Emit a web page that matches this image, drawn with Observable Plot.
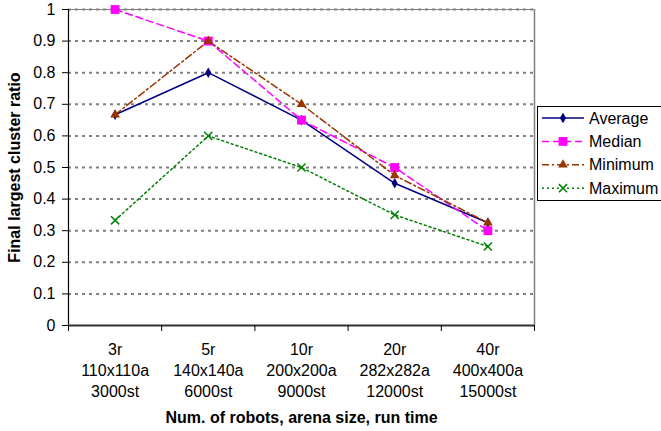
<!DOCTYPE html>
<html>
<head>
<meta charset="utf-8">
<script src="https://cdn.jsdelivr.net/npm/d3@7"></script>
<script src="https://cdn.jsdelivr.net/npm/@observablehq/plot@0.6"></script>
<style>
  html, body { margin: 0; padding: 0; background: #fff; overflow: hidden; }
  #wrap { position: relative; width: 661px; height: 431px; }
  #wrap svg { position: absolute; left: 0; top: 0; }
</style>
</head>
<body>
<div id="wrap"></div>
<script>
// ---- data ----
const robots = ["3r", "5r", "10r", "20r", "40r"];
const arenas = ["110x110a", "140x140a", "200x200a", "282x282a", "400x400a"];
const runTimes = ["3000st", "6000st", "9000st", "12000st", "15000st"];
const average = [0.667, 0.8, 0.65, 0.45, 0.325];
const median  = [1.0, 0.9, 0.65, 0.5, 0.3];
const minimum = [0.667, 0.9, 0.7, 0.475, 0.325];
const maximum = [0.333, 0.6, 0.5, 0.35, 0.25];
const yTicks = [0, 0.1, 0.2, 0.3, 0.4, 0.5, 0.6, 0.7, 0.8, 0.9, 1];
const seriesNames = ["Average", "Median", "Minimum", "Maximum"];
const yLabel = "Final largest cluster ratio";
const xLabel = "Num. of robots, arena size, run time";

// ---- styles ----
const styles = {
  Average: {values: average, stroke: "#000080", dash: null, symbol: "diamond", r: 3.2, fill: "#000080"},
  Median:  {values: median,  stroke: "#FF00FF", dash: "7,4", symbol: "square", r: 5, fill: "#FF00FF"},
  Minimum: {values: minimum, stroke: "#993300", dash: "7,3,2,3", symbol: "triangle", r: 3.6, fill: "#993300"},
  Maximum: {values: maximum, stroke: "#008000", dash: "2,3", symbol: "times", r: 3.8, fill: null}
};

const idx = d3.range(robots.length);
const boundaries = d3.range(robots.length + 1);
const centers = idx.map(i => i + 0.5);

const seriesMarks = [];
for (const name of seriesNames) {
  const s = styles[name];
  seriesMarks.push(Plot.line(idx, {
    x: i => i + 0.5, y: i => s.values[i],
    stroke: s.stroke, strokeWidth: 1.5, strokeDasharray: s.dash
  }));
}
for (const name of seriesNames) {
  const s = styles[name];
  seriesMarks.push(Plot.dot(idx, {
    x: i => i + 0.5, y: i => s.values[i],
    symbol: () => s.symbol, r: s.r,
    fill: s.fill ? s.fill : "none",
    stroke: s.fill ? "none" : s.stroke,
    strokeWidth: 1.5
  }));
}

const chart = Plot.plot({
  width: 661,
  height: 431,
  marginLeft: 68,
  marginRight: 127,
  marginTop: 9,
  marginBottom: 106,
  style: {fontFamily: "'Liberation Sans', Arial, sans-serif", fontSize: "16px", background: "#fff", overflow: "visible"},
  x: {type: "linear", domain: [0, robots.length]},
  y: {domain: [0, 1]},
  symbol: {type: "identity"},
  marks: [
    Plot.ruleY(yTicks.filter(d => d > 0), {stroke: "#808080", strokeWidth: 2, strokeDasharray: "3,4"}),
    Plot.ruleY([1], {stroke: "#808080", strokeWidth: 1}),
    Plot.ruleX([robots.length], {stroke: "#808080", strokeWidth: 1.5}),
    Plot.ruleX([0], {stroke: "#000", strokeWidth: 1.2}),
    Plot.ruleY([0], {stroke: "#333", strokeWidth: 2}),
    Plot.axisY({ticks: yTicks, tickSize: 6, tickPadding: 7, tickFormat: d => String(d), label: null}),
    Plot.axisX({ticks: boundaries, tickSize: 6, tickFormat: () => "", label: null}),
    Plot.axisX({ticks: centers, tickSize: 0, tickPadding: 15, lineHeight: 1.3,
      tickFormat: d => { const i = Math.floor(d); return robots[i] + "\n" + arenas[i] + "\n" + runTimes[i]; },
      label: null}),
    Plot.text([xLabel], {text: d => d, frameAnchor: "bottom", dy: 92, lineAnchor: "middle", textAnchor: "middle", fontWeight: "bold", fontSize: 16}),
    Plot.text([yLabel], {text: d => d, frameAnchor: "left", dx: -54, rotate: -90, textAnchor: "middle", lineAnchor: "middle", fontWeight: "bold", fontSize: 16}),
    ...seriesMarks
  ]
});

document.getElementById("wrap").appendChild(chart);

// ---- legend overlay ----
const leg = d3.select("#wrap").append("svg")
  .attr("width", 661).attr("height", 431)
  .style("pointer-events", "none")
  .style("font-family", "'Liberation Sans', Arial, sans-serif")
  .style("font-size", "16px");
leg.append("rect")
  .attr("x", 537.5).attr("y", 106.5).attr("width", 135).attr("height", 94)
  .attr("fill", "#fff").attr("stroke", "#000").attr("stroke-width", 1);
const symMap = {diamond: d3.symbolDiamond, square: d3.symbolSquare, triangle: d3.symbolTriangle, times: d3.symbolTimes};
seriesNames.forEach((name, k) => {
  const s = styles[name];
  const cy = 118 + k * 23.4;
  const g = leg.append("g").attr("transform", `translate(0,${cy})`);
  g.append("line").attr("x1", 542).attr("x2", 584).attr("y1", 0).attr("y2", 0)
    .attr("stroke", s.stroke).attr("stroke-width", 1.5)
    .attr("stroke-dasharray", s.dash);
  g.append("path")
    .attr("transform", "translate(563,0)")
    .attr("d", d3.symbol(symMap[s.symbol], s.r * s.r * Math.PI)())
    .attr("fill", s.fill ? s.fill : "none")
    .attr("stroke", s.fill ? "none" : s.stroke)
    .attr("stroke-width", 1.5);
  g.append("text").attr("x", 589).attr("y", 0).attr("dy", "0.35em")
    .attr("fill", "#000").text(name);
});
</script>
</body>
</html>
